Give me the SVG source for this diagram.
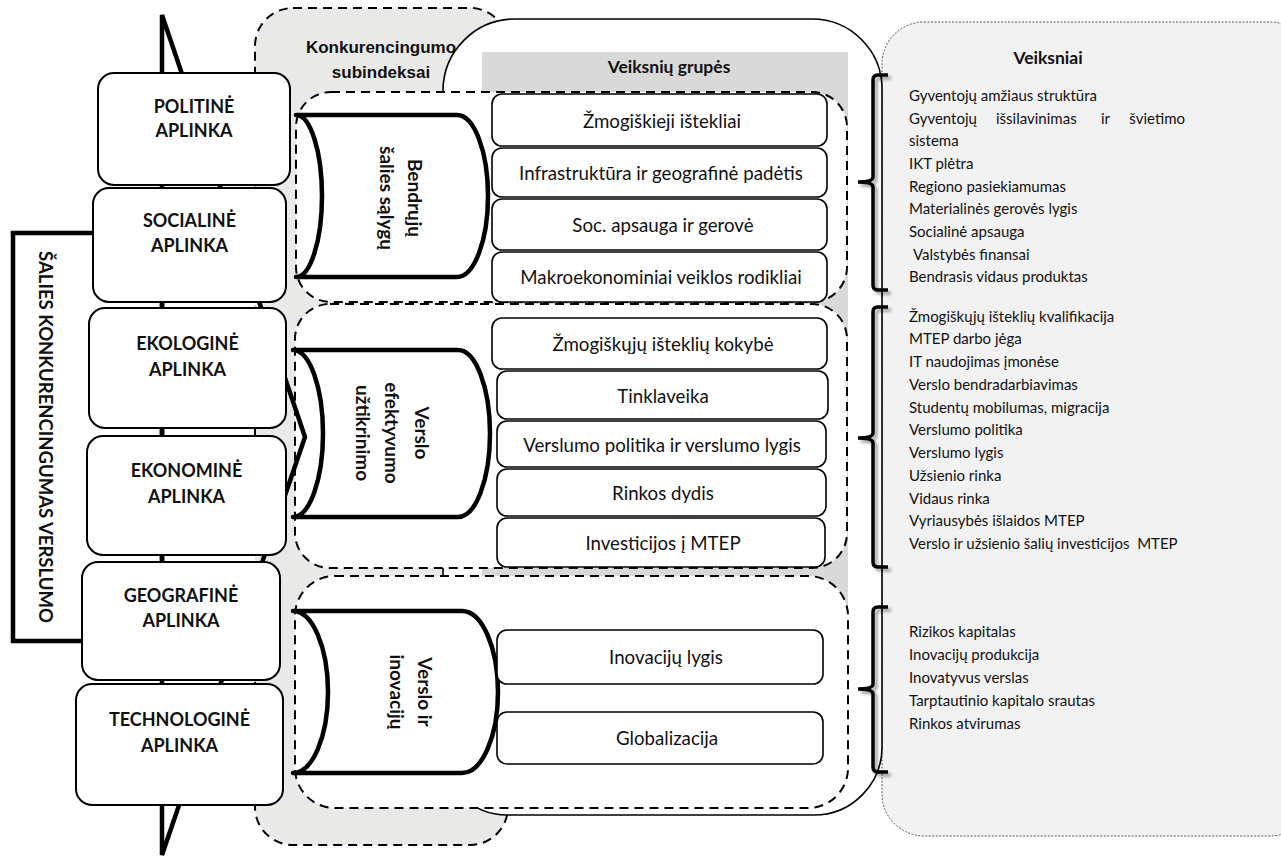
<svg xmlns="http://www.w3.org/2000/svg" width="1281" height="859" viewBox="0 0 1281 859">
<defs>
<style>
.env rect{fill:#fff;stroke:#000;stroke-width:2}
.env text{font-family:Lato,"Liberation Sans",sans-serif;font-weight:bold;font-size:18px;text-anchor:middle;fill:#111}
.fbox rect{fill:#fff;stroke:#000;stroke-width:1.6}
.fbox text{font-family:Lato,"Liberation Sans",sans-serif;font-size:18.7px;text-anchor:middle;dominant-baseline:central;fill:#111}
.dash{fill:#fff;stroke:#000;stroke-width:2;stroke-dasharray:9 6}
.cyl path{fill:#fff;stroke:#000;stroke-width:4.5;stroke-linejoin:round}
.cyl text{font-family:Lato,"Liberation Sans",sans-serif;font-weight:bold;font-size:19px;text-anchor:middle;dominant-baseline:central;fill:#111}
.list text{font-family:Lato,"Liberation Sans",sans-serif;font-size:15px;fill:#111}
.brace{fill:none;stroke:#000;stroke-width:3.5;filter:url(#sh)}
.hdr{font-family:Lato,"Liberation Sans",sans-serif;font-weight:bold;font-size:17.5px;text-anchor:middle;fill:#111}
</style>
<filter id="sh" x="-50%" y="-10%" width="200%" height="120%">
<feDropShadow dx="3" dy="3" stdDeviation="1.5" flood-color="#000" flood-opacity="0.35"/>
</filter>
</defs>

<!-- right panel -->
<g id="veiksniai-panel">
<rect x="882" y="22" width="430" height="814" rx="42" fill="#f2f2f2" stroke="#555" stroke-width="1" stroke-dasharray="2 1.5"/>
<text class="hdr" x="1048" y="64">Veiksniai</text>
</g>

<!-- gray blob -->
<g id="subindeksai">
<rect x="255" y="8" width="253" height="837" rx="38" fill="#e9e9e7" stroke="#000" stroke-width="2" stroke-dasharray="9 6"/>
<text x="381" y="53" font-family="'Liberation Sans',Arial,sans-serif" font-weight="bold" font-size="17px" text-anchor="middle" fill="#111">Konkurencingumo</text>
<text x="381" y="78" font-family="'Liberation Sans',Arial,sans-serif" font-weight="bold" font-size="17px" text-anchor="middle" fill="#111">subindeksai</text>
</g>

<!-- white big shape -->
<g id="grupes-frame">
<path d="M443,91 A72,72 0 0 1 515,19 L812,19 A70,70 0 0 1 882,89 L882,747 A68,68 0 0 1 814,815 L507,815 A64,64 0 0 1 443,751 Z" fill="#fff" stroke="#000" stroke-width="1.6"/>
<rect x="482" y="52" width="366" height="568" fill="#d9d9d9"/>
<text class="hdr" x="669" y="73">Veiksnių grupės</text>
</g>

<!-- dashed group boxes -->
<g id="group1"><rect class="dash" x="296" y="92" width="551" height="210" rx="35"/></g>
<g id="group2"><rect class="dash" x="295" y="304" width="552" height="264" rx="35"/></g>
<g id="group3"><rect class="dash" x="295" y="576" width="553" height="232" rx="40"/></g>

<!-- cylinders -->
<g id="cyl1" class="cyl">
<path d="M296,115 L457,115 A31,81 0 0 1 457,277 L296,277 A26,81 0 0 0 296,115 Z"/>
<text transform="translate(415,198) rotate(90)">Bendrųjų</text>
<text transform="translate(387,198) rotate(90)">šalies sąlygų</text>
</g>
<g id="cyl2" class="cyl">
<path d="M293,350 L458,350 A32,83.5 0 0 1 458,517 L293,517 A30,83.5 0 0 0 293,350 Z"/>
<text transform="translate(422,433) rotate(90)">Verslo</text>
<text transform="translate(392,433) rotate(90)">efektyvumo</text>
<text transform="translate(363,433) rotate(90)">užtikrinimo</text>
</g>
<g id="cyl3" class="cyl">
<path d="M293,611 L462,611 A36,81 0 0 1 462,773 L293,773 A35,81 0 0 0 293,611 Z"/>
<text transform="translate(425,692) rotate(90)">Verslo ir</text>
<text transform="translate(397,692) rotate(90)">inovacijų</text>
</g>

<!-- factor group boxes -->
<g id="f-zmogiskieji" class="fbox"><rect x="492" y="94" width="335" height="52" rx="10"/><text x="662" y="121">Žmogiškieji ištekliai</text></g>
<g id="f-infra" class="fbox"><rect x="492" y="148" width="335" height="49" rx="10"/><text x="661" y="173">Infrastruktūra ir geografinė padėtis</text></g>
<g id="f-soc" class="fbox"><rect x="492" y="199" width="335" height="51" rx="10"/><text x="663" y="225">Soc. apsauga ir gerovė</text></g>
<g id="f-makro" class="fbox"><rect x="492" y="252" width="335" height="50" rx="10"/><text x="661" y="277">Makroekonominiai veiklos rodikliai</text></g>

<g id="f-kokybe" class="fbox"><rect x="492" y="318" width="335" height="51" rx="10"/><text x="663" y="344">Žmogiškųjų išteklių kokybė</text></g>
<g id="f-tinkl" class="fbox"><rect x="497" y="371" width="331" height="48" rx="10"/><text x="663" y="396">Tinklaveika</text></g>
<g id="f-versl" class="fbox"><rect x="497" y="421" width="329" height="46" rx="10"/><text x="662" y="445">Verslumo politika ir verslumo lygis</text></g>
<g id="f-rinkos" class="fbox"><rect x="497" y="469" width="329" height="47" rx="10"/><text x="663" y="493">Rinkos dydis</text></g>
<g id="f-invest" class="fbox"><rect x="497" y="518" width="328" height="49" rx="10"/><text x="663" y="543">Investicijos į MTEP</text></g>

<g id="f-inov" class="fbox"><rect x="497" y="630" width="326" height="54" rx="10"/><text x="666" y="657">Inovacijų lygis</text></g>
<g id="f-glob" class="fbox"><rect x="497" y="712" width="326" height="52" rx="10"/><text x="667" y="738">Globalizacija</text></g>

<!-- left frame and arrow -->
<g id="salies-konkurencingumas">
<rect x="13" y="233" width="149" height="408" fill="#fff" stroke="#000" stroke-width="4.5"/>
<polygon points="162,15 305,437 162,855" fill="none" stroke="#000" stroke-width="4.5" stroke-linejoin="miter"/>
<text transform="translate(46,437) rotate(90)" font-family="Lato,'Liberation Sans',sans-serif" font-weight="bold" font-size="18.5px" text-anchor="middle" dominant-baseline="central" fill="#111">ŠALIES KONKURENCINGUMAS VERSLUMO</text>
</g>

<!-- environment boxes -->
<g id="env-politine" class="env"><rect x="98" y="73" width="192" height="112" rx="16"/><text x="194" y="113">POLITINĖ</text><text x="194" y="137">APLINKA</text></g>
<g id="env-socialine" class="env"><rect x="93" y="188" width="193" height="114" rx="16"/><text x="189.5" y="227">SOCIALINĖ</text><text x="189.5" y="252">APLINKA</text></g>
<g id="env-ekologine" class="env"><rect x="89" y="308" width="197" height="120" rx="16"/><text x="187.5" y="350">EKOLOGINĖ</text><text x="187.5" y="376">APLINKA</text></g>
<g id="env-ekonomine" class="env"><rect x="87" y="436" width="199" height="119" rx="16"/><text x="186.5" y="477">EKONOMINĖ</text><text x="186.5" y="503">APLINKA</text></g>
<g id="env-geografine" class="env"><rect x="82" y="562" width="198" height="118" rx="16"/><text x="181" y="602">GEOGRAFINĖ</text><text x="181" y="627">APLINKA</text></g>
<g id="env-technologine" class="env"><rect x="76" y="684" width="207" height="121" rx="16"/><text x="179.5" y="726">TECHNOLOGINĖ</text><text x="179.5" y="752">APLINKA</text></g>

<!-- braces -->
<g id="connectors">
<path class="brace" d="M888,75 H878 Q873,75 873,80 V177 Q873,182 858,182 Q873,182 873,187 V285 Q873,290 878,290 H888"/>
<path class="brace" d="M888,307 H878 Q873,307 873,312 V433 Q873,438 858,438 Q873,438 873,443 V562 Q873,567 878,567 H888"/>
<path class="brace" d="M888,607 H878 Q873,607 873,612 V684 Q873,689 858,689 Q873,689 873,694 V767 Q873,772 878,772 H888"/>
</g>

<!-- factor lists -->
<g id="list1" class="list">
<text x="909" y="101">Gyventojų amžiaus struktūra</text>
<text x="909" y="124">Gyventojų</text><text x="996" y="124">išsilavinimas</text><text x="1101" y="124">ir</text><text x="1185" y="124" text-anchor="end">švietimo</text>
<text x="909" y="146">sistema</text>
<text x="909" y="169">IKT plėtra</text>
<text x="909" y="192">Regiono pasiekiamumas</text>
<text x="909" y="214">Materialinės gerovės lygis</text>
<text x="909" y="237">Socialinė apsauga</text>
<text x="913" y="260">Valstybės finansai</text>
<text x="909" y="282">Bendrasis vidaus produktas</text>
</g>
<g id="list2" class="list">
<text x="909" y="321.5">Žmogiškųjų išteklių kvalifikacija</text>
<text x="909" y="344">MTEP darbo jėga</text>
<text x="909" y="367">IT naudojimas įmonėse</text>
<text x="909" y="390">Verslo bendradarbiavimas</text>
<text x="909" y="412.5">Studentų mobilumas, migracija</text>
<text x="909" y="435">Verslumo politika</text>
<text x="909" y="458">Verslumo lygis</text>
<text x="909" y="481">Užsienio rinka</text>
<text x="909" y="503.5">Vidaus rinka</text>
<text x="909" y="526">Vyriausybės išlaidos MTEP</text>
<text x="909" y="549" xml:space="preserve">Verslo ir užsienio šalių investicijos  MTEP</text>
</g>
<g id="list3" class="list">
<text x="909" y="637">Rizikos kapitalas</text>
<text x="909" y="660">Inovacijų produkcija</text>
<text x="909" y="683">Inovatyvus verslas</text>
<text x="909" y="706">Tarptautinio kapitalo srautas</text>
<text x="909" y="729">Rinkos atvirumas</text>
</g>
</svg>
